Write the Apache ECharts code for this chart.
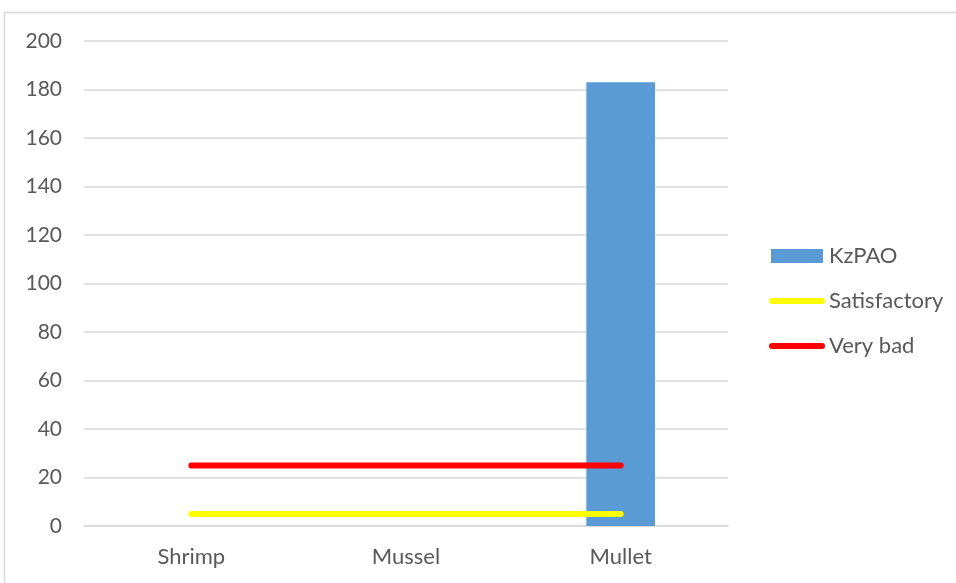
<!DOCTYPE html>
<html>
<head>
<meta charset="utf-8">
<script src="https://cdn.jsdelivr.net/npm/echarts@6/dist/echarts.min.js"></script>
<style>
html,body{margin:0;padding:0;background:#fff;}
#c{width:956px;height:583px;}
</style>
</head>
<body>
<div id="c"></div>
<script>
var categories = ['Shrimp', 'Mussel', 'Mullet'];
var kzpao = [0, 0, 183];
var satisfactory = [5, 5, 5];
var veryBad = [25, 25, 25];
var yTicks = [0, 20, 40, 60, 80, 100, 120, 140, 160, 180, 200];

var chart = echarts.init(document.getElementById('c'));
var font = 'Lato';
var lineIcon = 'path://M3,0 H53 A3,3 0 0 1 53,6 H3 A3,3 0 0 1 3,0 Z';
var rectIcon = 'path://M0,0 H52 V14 H0 Z';
chart.setOption({
  animation: false,
  backgroundColor: '#fff',
  graphic: [
    {type: 'line', shape: {x1: 4.5, y1: 12, x2: 4.5, y2: 583}, style: {stroke: '#d9d9d9', lineWidth: 1.5}},
    {type: 'line', shape: {x1: 4, y1: 12.5, x2: 956, y2: 12.5}, style: {stroke: '#d9d9d9', lineWidth: 1.5}}
  ],
  grid: {left: 84, right: 228, top: 41, bottom: 57, containLabel: false},
  legend: {
    orient: 'vertical',
    left: 764,
    top: 240,
    itemGap: 23,
    itemWidth: 56,
    itemHeight: 14,
    textStyle: {fontFamily: font, fontSize: 22, color: '#595959', padding: [0, 0, 0, -1]},
    data: [
      {name: 'KzPAO', icon: rectIcon},
      {name: 'Satisfactory', icon: lineIcon},
      {name: 'Very bad', icon: lineIcon}
    ]
  },
  xAxis: {
    type: 'category',
    data: categories,
    axisLine: {show: true, lineStyle: {color: '#d9d9d9', width: 1.5}},
    axisTick: {show: false},
    axisLabel: {fontFamily: font, fontSize: 22, color: '#595959', margin: 20}
  },
  yAxis: {
    type: 'value',
    min: yTicks[0],
    max: yTicks[yTicks.length - 1],
    interval: 20,
    axisLine: {show: false},
    axisTick: {show: false},
    splitLine: {lineStyle: {color: '#d9d9d9', width: 1.5}},
    axisLabel: {fontFamily: font, fontSize: 21, color: '#595959', margin: 22}
  },
  series: [
    {
      name: 'KzPAO', type: 'bar', data: kzpao, barWidth: '32%',
      itemStyle: {color: '#5b9bd5'}
    },
    {
      name: 'Satisfactory', type: 'line', data: satisfactory, symbol: 'none',
      lineStyle: {color: '#ffff00', width: 6, cap: 'round'},
      itemStyle: {color: '#ffff00'}
    },
    {
      name: 'Very bad', type: 'line', data: veryBad, symbol: 'none',
      lineStyle: {color: '#ff0000', width: 6, cap: 'round'},
      itemStyle: {color: '#ff0000'}
    }
  ]
});
</script>
</body>
</html>
